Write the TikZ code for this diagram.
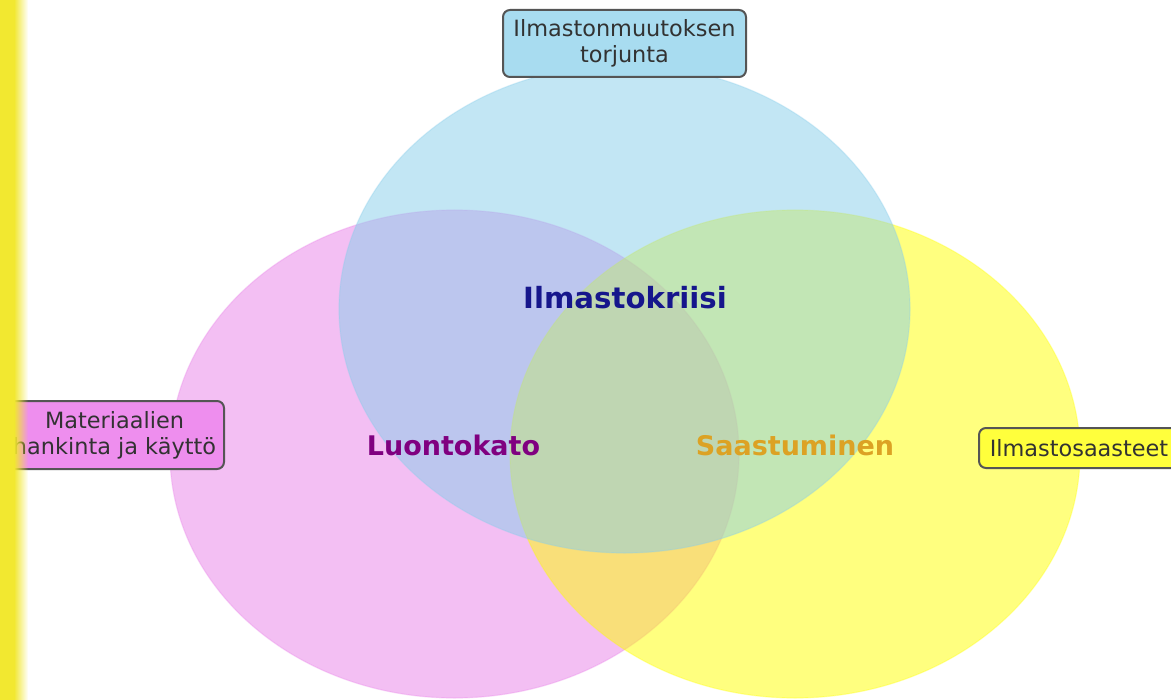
\documentclass[tikz,border=0pt]{standalone}
\usepackage{fontspec}
\setmainfont{DejaVu Sans}
\usetikzlibrary{fadings}
\definecolor{skyset}{RGB}{135,206,235}
\definecolor{pinkset}{RGB}{233,129,233}
\definecolor{yellowset}{RGB}{255,255,0}
\definecolor{skytag}{RGB}{168,220,240}
\definecolor{pinktag}{RGB}{238,142,238}
\definecolor{yellowtag}{RGB}{255,255,60}
\definecolor{tagline}{RGB}{85,85,85}
\definecolor{tagtext}{RGB}{50,50,50}
\definecolor{crisis}{RGB}{22,22,140}
\definecolor{loss}{RGB}{128,0,128}
\definecolor{pollution}{RGB}{220,162,36}
\definecolor{stripe}{RGB}{242,232,48}
\tikzset{
  set/.style={fill opacity=0.5, draw opacity=0.3, line width=0.6pt},
  tag/.style={
    draw=tagline,
    line width=1pt,
    rounded corners=3.5pt,
    align=center,
    text=tagtext,
    inner sep=0pt,
    font=\fontsize{11.2}{13}\selectfont
  },
  title/.style={font=\fontsize{13.5}{16}\selectfont\bfseries}
}

\begin{document}
\begin{tikzpicture}[x=0.5pt, y=-0.5pt]
  \useasboundingbox[fill=white] (0,0) rectangle (1171,700);

  \filldraw[set, fill=pinkset, draw=pinkset] (454.5,454) ellipse [x radius=284.5, y radius=244];
  \filldraw[set, fill=yellowset, draw=yellowset] (795,454) ellipse [x radius=285, y radius=244];
  \filldraw[set, fill=skyset, draw=skyset] (624.5,309) ellipse [x radius=285.5, y radius=244];

  \node[title, text=crisis, font=\fontsize{14.6}{17}\selectfont\bfseries] (crisis) at (625,298) {Ilmastokriisi};
  \node[title, text=loss] (loss) at (453.5,445) {Luontokato};
  \node[title, text=pollution] (pollution) at (795,445) {Saastuminen};

  \node[tag, fill=skytag, minimum width=121.5pt, minimum height=33.5pt] (mitigation) at (624.5,43.5) {Ilmastonmuutoksen\\torjunta};
  \node[tag, fill=pinktag, minimum width=109.5pt, minimum height=34pt] (materials) at (114.5,435) {Materiaalien\\hankinta ja käyttö};
  \node[tag, fill=yellowtag, minimum width=100pt, minimum height=20pt] (emissions) at (1079,448) {Ilmastosaasteet};

  \fill[stripe] (0,0) rectangle (14,700);
  \fill[stripe, path fading=east] (14,0) rectangle (28,700);
\end{tikzpicture}
\end{document}
